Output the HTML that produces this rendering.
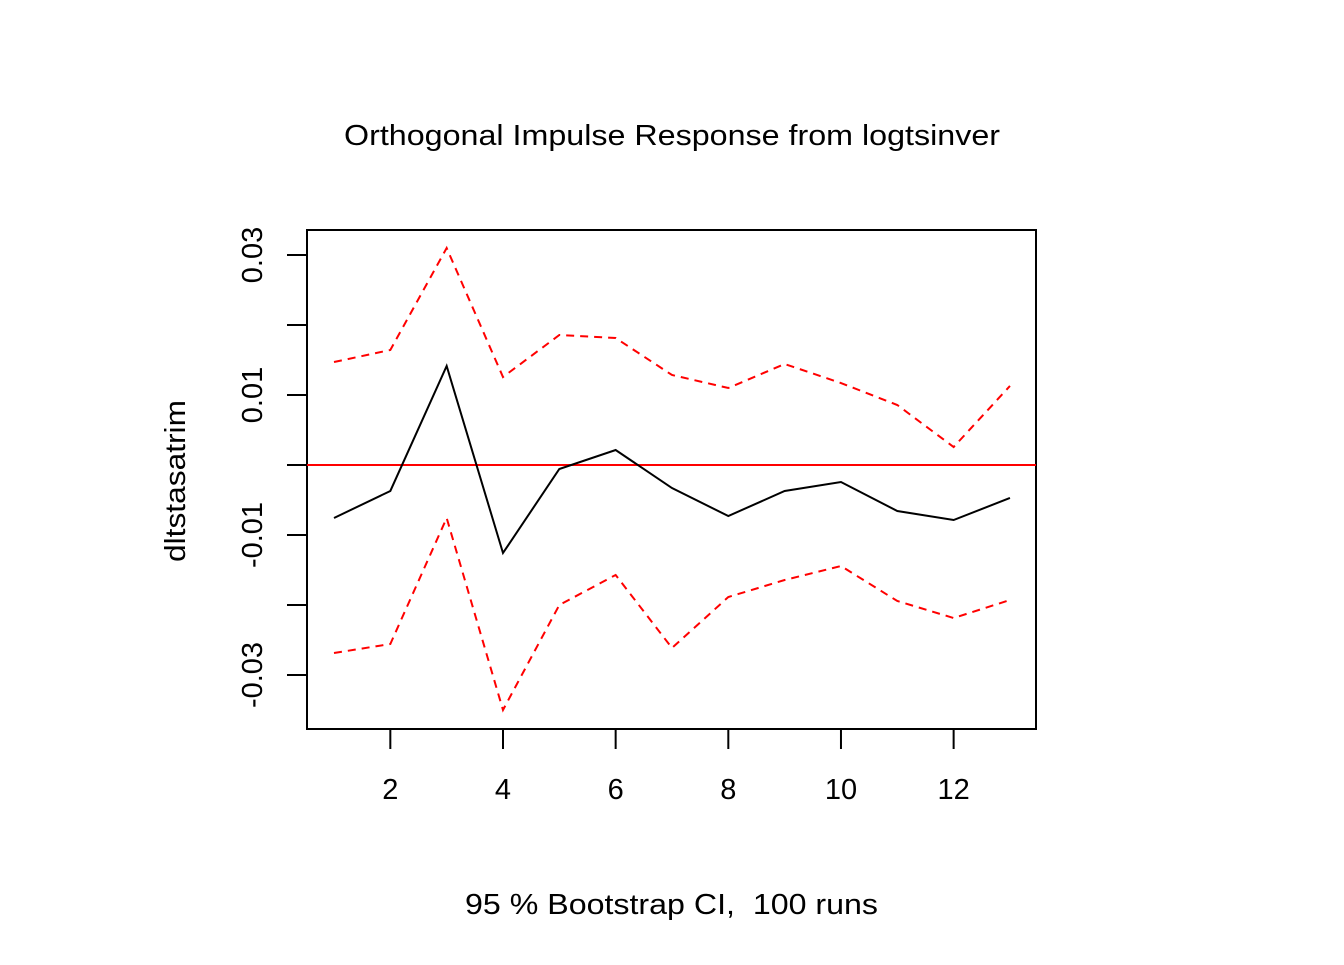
<!DOCTYPE html>
<html><head><meta charset="utf-8"><style>
body{margin:0;background:#fff;}
svg text{font-family:"Liberation Sans",Arial,sans-serif;fill:#000;}
</style></head><body>
<svg id="chart" width="1344" height="960" xmlns="http://www.w3.org/2000/svg">
<rect width="1344" height="960" fill="#fff"/>
<text x="344" y="145" font-size="29" textLength="656" lengthAdjust="spacingAndGlyphs">Orthogonal Impulse Response from logtsinver</text>
<text x="465" y="914" font-size="29" textLength="413" lengthAdjust="spacingAndGlyphs" xml:space="preserve" style="white-space:pre">95 % Bootstrap CI,  100 runs</text>
<text transform="translate(185,562) rotate(-90)" font-size="29" textLength="162" lengthAdjust="spacingAndGlyphs">dltstasatrim</text>
<rect x="307" y="230" width="729" height="499" fill="none" stroke="#000" stroke-width="2"/>
<g id="g"></g>
</svg>
<script>
const steps=[1,2,3,4,5,6,7,8,9,10,11,12,13];
const response=[-0.00757,-0.00371,0.01414,-0.01257,-0.00057,0.00214,-0.00329,-0.00729,-0.00371,-0.00243,-0.00657,-0.00786,-0.00471];
const upper=[0.01471,0.01643,0.031,0.01257,0.01857,0.01814,0.01286,0.011,0.01443,0.01171,0.00857,0.00257,0.01129];
const lower=[-0.02686,-0.02557,-0.00757,-0.035,-0.02,-0.01571,-0.02614,-0.01886,-0.01643,-0.01443,-0.01943,-0.02186,-0.01929];
const xTicks=[2,4,6,8,10,12];
const yTicks=[-0.03,-0.02,-0.01,0,0.01,0.02,0.03];
const yLabels=["-0.03","","-0.01","","0.01","","0.03"];
const NS="http://www.w3.org/2000/svg";
const X=v=>334+(v-1)*56.33;
const Y=v=>465-v*7000;
const g=document.getElementById('g');
function el(t,a){const e=document.createElementNS(NS,t);for(const k in a)e.setAttribute(k,a[k]);g.appendChild(e);return e;}
xTicks.forEach(t=>{
 const l=el('line',{x1:X(t),x2:X(t),y1:729,y2:749,stroke:'#000','stroke-width':2});
 
 
 const tx=el('text',{x:X(t),y:799,'font-size':29,'text-anchor':'middle'});tx.textContent=t;
 
 
});
yTicks.forEach((t,i)=>{
 const l=el('line',{x1:287,x2:307,y1:Y(t),y2:Y(t),stroke:'#000','stroke-width':2});
 
 
 if(yLabels[i]){const tx=el('text',{transform:`translate(262,${Y(t)}) rotate(-90)`,'font-size':29,'text-anchor':'middle'});tx.textContent=yLabels[i];
 
 }
});
const zl=el('line',{x1:307,x2:1036,y1:Y(0),y2:Y(0),stroke:'#f00','stroke-width':2});


function path(arr,color,dash,name){
 const p=el('polyline',{points:arr.map((v,i)=>X(steps[i])+','+Y(v)).join(' '),fill:'none',stroke:color,'stroke-width':2});
 if(dash)p.setAttribute('stroke-dasharray','8,6');
 
 
}
path(upper,'#f00',true,'upper-ci-line');
path(lower,'#f00',true,'lower-ci-line');
path(response,'#000',false,'response-line');
</script>
</body></html>
